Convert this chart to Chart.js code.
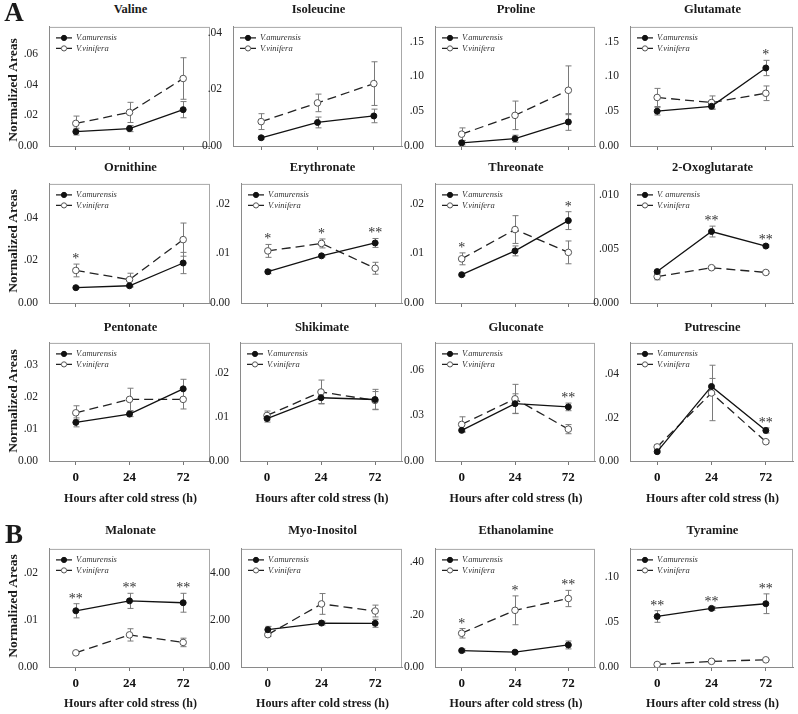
<!DOCTYPE html>
<html>
<head>
<meta charset="utf-8">
<script src="https://cdn.jsdelivr.net/npm/chart.js@4.4.1/dist/chart.umd.min.js"></script>
<style>
  html, body { margin: 0; padding: 0; background: #fff; }
  #fig { position: relative; width: 798px; height: 714px; overflow: hidden;
         font-family: 'Liberation Serif', 'Times New Roman', serif; color: #1a1a1a; }
  #fig canvas { position: absolute; }
  .lbl { position: absolute; transform: translate(-50%, -50%); white-space: nowrap; font-weight: bold; }
  .ylab { position: absolute; transform: translate(-50%, -50%) rotate(-90deg); white-space: nowrap;
          font-weight: bold; font-size: 13.5px; }
</style>
</head>
<body>
<div id="fig"></div>
<script>
/* ---------- data ---------- */
const hours = ['0', '24', '72'];
const metabolites = ['Valine', 'Isoleucine', 'Proline', 'Glutamate',
  'Ornithine', 'Erythronate', 'Threonate', '2-Oxoglutarate',
  'Pentonate', 'Shikimate', 'Gluconate', 'Putrescine',
  'Malonate', 'Myo-Inositol', 'Ethanolamine', 'Tyramine'];

// V. amurensis (filled) means and SE
const amurMean = [
  [0.0094, 0.0114, 0.0238], [0.0029, 0.0083, 0.0106], [0.0045, 0.0105, 0.0345], [0.050, 0.057, 0.112],
  [0.0072, 0.0081, 0.0188], [0.0063, 0.0095, 0.0121], [0.0057, 0.0105, 0.0166], [0.0029, 0.0066, 0.00526],
  [0.0121, 0.0147, 0.0226], [0.0096, 0.0143, 0.0139], [0.0201, 0.0376, 0.0355], [0.0043, 0.0344, 0.0141],
  [0.0119, 0.0140, 0.0136], [1.58, 1.86, 1.85], [0.0625, 0.0565, 0.084], [0.0563, 0.0653, 0.0705]
];
const amurErr = [
  [0.0022, 0.0020, 0.0053], [0.0005, 0.0019, 0.0024], [0.003, 0.005, 0.012], [0.0055, 0.004, 0.011],
  [0.0004, 0.0006, 0.005], [0.0004, 0.0002, 0.0009], [0.0002, 0.001, 0.0018], [0.0001, 0.0005, 0.0001],
  [0.0014, 0.0008, 0.003], [0.0008, 0.0013, 0.0023], [0.001, 0.0065, 0.0025], [0.0005, 0.0037, 0.0012],
  [0.0015, 0.0016, 0.002], [0.14, 0.08, 0.17], [0.006, 0.003, 0.015], [0.0065, 0.002, 0.011]
];

// V. vinifera (open) means and SE
const viniMean = [
  [0.0148, 0.0220, 0.0442], [0.0086, 0.0152, 0.0220], [0.017, 0.044, 0.080], [0.0697, 0.0624, 0.0757],
  [0.0153, 0.0110, 0.0298], [0.0105, 0.0120, 0.0070], [0.0089, 0.0148, 0.0102], [0.00244, 0.00326, 0.00282],
  [0.0151, 0.0193, 0.0193], [0.0103, 0.0156, 0.0137], [0.0240, 0.0408, 0.0209], [0.0065, 0.0314, 0.0089],
  [0.0030, 0.0068, 0.0052], [1.37, 2.67, 2.37], [0.1285, 0.216, 0.261], [0.0028, 0.0063, 0.0080]
];
const viniErr = [
  [0.0048, 0.0066, 0.0136], [0.0028, 0.0031, 0.0077], [0.009, 0.0205, 0.035], [0.013, 0.0095, 0.0105],
  [0.003, 0.003, 0.0078], [0.0013, 0.0009, 0.0012], [0.0012, 0.0028, 0.0023], [0.0003, 0.0001, 0.0001],
  [0.0022, 0.0035, 0.003], [0.001, 0.0027, 0.002], [0.005, 0.0095, 0.003], [0.001, 0.0128, 0.0005],
  [0.0002, 0.0013, 0.0009], [0.07, 0.44, 0.25], [0.018, 0.055, 0.031], [0.0005, 0.0005, 0.0005]
];

// significance marks per time point
const signif = [
  ['', '', ''], ['', '', ''], ['', '', ''], ['', '', '*'],
  ['*', '', ''], ['*', '*', '**'], ['*', '', '*'], ['', '**', '**'],
  ['', '', ''], ['', '', ''], ['', '', '**'], ['', '', '**'],
  ['**', '**', '**'], ['', '', ''], ['*', '*', '**'], ['**', '**', '**']
];

// y axis ranges and tick labels
const yMax = [0.078, 0.042, 0.171, 0.171, 0.056, 0.024, 0.024, 0.011,
  0.037, 0.0267, 0.0775, 0.0545, 0.025, 5.0, 0.45, 0.1316];
const yTickValues = [
  [0, 0.02, 0.04, 0.06], [0, 0.02, 0.04], [0, 0.05, 0.10, 0.15], [0, 0.05, 0.10, 0.15],
  [0, 0.02, 0.04], [0, 0.01, 0.02], [0, 0.01, 0.02], [0, 0.005, 0.010],
  [0, 0.01, 0.02, 0.03], [0, 0.01, 0.02], [0, 0.03, 0.06], [0, 0.02, 0.04],
  [0, 0.01, 0.02], [0, 2, 4], [0, 0.2, 0.4], [0, 0.05, 0.10]
];
const yTickLabels = [
  ['0.00', '.02', '.04', '.06'], ['0.00', '.02', '.04'], ['0.00', '.05', '.10', '.15'], ['0.00', '.05', '.10', '.15'],
  ['0.00', '.02', '.04'], ['0.00', '.01', '.02'], ['0.00', '.01', '.02'], ['0.000', '.005', '.010'],
  ['0.00', '.01', '.02', '.03'], ['0.00', '.01', '.02'], ['0.00', '.03', '.06'], ['0.00', '.02', '.04'],
  ['0.00', '.01', '.02'], ['0.00', '2.00', '4.00'], ['0.00', '.20', '.40'], ['0.00', '.05', '.10']
];

const amurLabel = metabolites.map((m) => (m === '2-Oxoglutarate' ? 'V. amurensis' : 'V.amurensis'));
const viniLabel = 'V.vinifera';

/* ---------- layout ---------- */
const rowBox = [[21, 146], [178, 303], [337, 461], [543, 667]];
const rowTitleY = [9, 167, 327, 530];
const boxLeft = [49, 233, 435, 630, 49, 241, 435, 630, 49, 240, 435, 630, 49, 241, 435, 630];
const boxRight = [212, 404, 597, 795];
const ylabelY = [90, 241, 401, 606];
const serif = "'Liberation Serif', 'Times New Roman', serif";

const fig = document.getElementById('fig');

function addText(cls, text, x, y, size) {
  const d = document.createElement('div');
  d.className = cls;
  d.textContent = text;
  d.style.left = x + 'px';
  d.style.top = y + 'px';
  if (size) d.style.fontSize = size + 'px';
  fig.appendChild(d);
}

/* ---------- plugins ---------- */
const frame = {
  id: 'frame',
  beforeDraw(chart) {
    const a = chart.chartArea, ctx = chart.ctx;
    ctx.save();
    ctx.strokeStyle = '#a8a8a8';
    ctx.lineWidth = 1;
    ctx.strokeRect(a.left + 0.5, a.top + 0.5, a.right - a.left - 1, a.bottom - a.top);
    ctx.restore();
  }
};

const errorBars = {
  id: 'errorBars',
  beforeDatasetsDraw(chart) {
    const ctx = chart.ctx, ys = chart.scales.y;
    ctx.save();
    ctx.strokeStyle = '#7a7a7a';
    ctx.lineWidth = 1;
    chart.data.datasets.forEach((ds, di) => {
      chart.getDatasetMeta(di).data.forEach((pt, i) => {
        const v = ds.data[i], e = ds.errors[i];
        const top = ys.getPixelForValue(v + e), bot = ys.getPixelForValue(v - e);
        const x = Math.round(pt.x) + 0.5;
        ctx.beginPath();
        ctx.moveTo(x, top); ctx.lineTo(x, bot);
        ctx.moveTo(x - 3, top); ctx.lineTo(x + 3, top);
        ctx.moveTo(x - 3, bot); ctx.lineTo(x + 3, bot);
        ctx.stroke();
      });
    });
    ctx.restore();
  }
};

const sigStars = {
  id: 'sig',
  afterDatasetsDraw(chart, args, opts) {
    const marks = opts.marks || [];
    const ctx = chart.ctx, ys = chart.scales.y, xs = chart.scales.x;
    ctx.save();
    ctx.font = '14px ' + serif;
    ctx.fillStyle = '#333';
    ctx.textAlign = 'center';
    ctx.textBaseline = 'alphabetic';
    marks.forEach((m, i) => {
      if (!m) return;
      const top = Math.min(...chart.data.datasets.map((ds) => ys.getPixelForValue(ds.data[i] + ds.errors[i])));
      ctx.fillText(m, xs.getPixelForValue(i), top - 1);
    });
    ctx.restore();
  }
};

const seriesKey = {
  id: 'seriesKey',
  afterDatasetsDraw(chart) {
    const ctx = chart.ctx, a = chart.chartArea;
    ctx.save();
    chart.data.datasets.forEach((ds, i) => {
      const y = a.top + 11 + i * 10.5;
      const x0 = a.left + 7, xm = a.left + 15, x1 = a.left + 23;
      ctx.strokeStyle = ds.borderColor;
      ctx.lineWidth = 1.2;
      ctx.beginPath();
      if (i === 0) {
        ctx.moveTo(x0, y); ctx.lineTo(x1, y);
      } else {
        ctx.moveTo(x0, y); ctx.lineTo(xm - 3, y);
        ctx.moveTo(xm + 3, y); ctx.lineTo(x1, y);
      }
      ctx.stroke();
      ctx.beginPath();
      ctx.arc(xm, y, 2.6, 0, Math.PI * 2);
      ctx.fillStyle = ds.pointBackgroundColor;
      ctx.fill();
      ctx.strokeStyle = ds.pointBorderColor;
      ctx.lineWidth = 1;
      ctx.stroke();
      ctx.font = 'italic 8.5px ' + serif;
      ctx.fillStyle = '#333';
      ctx.textAlign = 'left';
      ctx.textBaseline = 'middle';
      ctx.fillText(ds.label, a.left + 27, y);
    });
    ctx.restore();
  }
};

/* ---------- panels ---------- */
const YW = 42, PT = 4, PR = 3, XH = 30;

function makePanel(p) {
  const r = Math.floor(p / 4), c = p % 4;
  const L = boxLeft[p], R = boxRight[c], T = rowBox[r][0], B = rowBox[r][1];
  const cv = document.createElement('canvas');
  cv.width = YW + (R - L) + PR;
  cv.height = PT + (B - T) + XH;
  cv.style.left = (L - YW) + 'px';
  cv.style.top = (T - PT) + 'px';
  fig.appendChild(cv);

  const showX = r >= 2;

  new Chart(cv, {
    type: 'line',
    data: {
      labels: hours,
      datasets: [
        {
          label: amurLabel[p],
          data: amurMean[p],
          errors: amurErr[p],
          borderColor: '#111',
          borderWidth: 1.3,
          tension: 0,
          pointRadius: 3,
          pointBackgroundColor: '#111',
          pointBorderColor: '#111',
          pointBorderWidth: 1
        },
        {
          label: viniLabel,
          data: viniMean[p],
          errors: viniErr[p],
          borderColor: '#222',
          borderWidth: 1.3,
          borderDash: [9, 5],
          tension: 0,
          pointRadius: 3.3,
          pointBackgroundColor: '#fff',
          pointBorderColor: '#555',
          pointBorderWidth: 1
        }
      ]
    },
    options: {
      responsive: false,
      animation: false,
      devicePixelRatio: 1,
      layout: { padding: { top: PT, right: PR, left: 0, bottom: 0 } },
      plugins: {
        legend: { display: false },
        tooltip: { enabled: false },
        sig: { marks: signif[p] }
      },
      scales: {
        x: {
          offset: true,
          grid: { display: true, drawOnChartArea: false, drawTicks: true, tickLength: 4, color: '#777' },
          border: { color: '#8a8a8a' },
          ticks: {
            display: showX,
            color: '#111',
            maxRotation: 0,
            padding: 5,
            font: { family: serif, size: 13, weight: 'bold' }
          },
          afterFit: (s) => { s.height = XH; }
        },
        y: {
          min: 0,
          max: yMax[p],
          grid: { display: false },
          border: { color: '#8a8a8a' },
          afterBuildTicks: (s) => { s.ticks = yTickValues[p].map((v) => ({ value: v })); },
          ticks: {
            color: '#222',
            padding: 3,
            font: { family: serif, size: 11.5 },
            callback: (v, i) => yTickLabels[p][i]
          },
          afterFit: (s) => { s.width = YW; }
        }
      }
    },
    plugins: [frame, errorBars, sigStars, seriesKey]
  });

  // panel title
  addText('lbl', metabolites[p], (L + R) / 2, rowTitleY[r], 12.5);
}

for (let p = 0; p < metabolites.length; p++) makePanel(p);

// section letters and axis titles
addText('lbl', 'A', 14, 12, 27);
addText('lbl', 'B', 14, 534, 27);
ylabelY.forEach((y) => addText('ylab', 'Normalized Areas', 13, y));
[2, 3].forEach((r) => {
  const y = r === 2 ? 498 : 703;
  for (let c = 0; c < 4; c++) {
    const p = r * 4 + c;
    addText('lbl', 'Hours after cold stress (h)', (boxLeft[p] + boxRight[c]) / 2, y, 12);
  }
});
</script>
</body>
</html>
